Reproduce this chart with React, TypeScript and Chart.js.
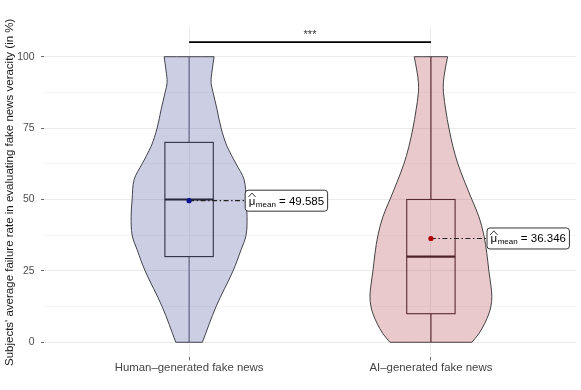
import React, { useEffect, useRef } from 'react';
import { Chart, registerables } from 'chart.js';

Chart.register(...registerables);

// ---------- data ----------
const CATEGORIES = ['Human–generated fake news', 'AI–generated fake news'];
const Y_TICKS = [0, 25, 50, 75, 100];
const Y_TITLE = "Subjects' average failure rate in evaluating fake news veracity (in %)";

// violin outline: y levels and half-width (density, in 1/242 category units)
const HUMAN_LEVELS = [0, 12.5, 25, 32.4, 37.5, 44, 50, 57, 62.5, 68.6, 75, 81.5, 87.5, 91, 95, 100];
const HUMAN_DENSITY = [13.3, 27, 44, 52, 57, 58, 57, 55, 47, 38, 32, 28, 24, 22, 23, 25];
const AI_LEVELS = [0, 3, 6.7, 10, 12.5, 16, 20, 25, 31, 37.5, 44, 50, 56, 62.5, 68.6, 75, 81, 87.5, 91, 95, 100];
const AI_DENSITY = [41, 48, 54, 58, 60, 61, 60, 58, 56, 53, 48, 41, 34, 27, 22, 18, 15, 12.5, 12.5, 14, 16.7];

const BOX_MIN = [0, 0];
const BOX_Q1 = [30, 10];
const BOX_MEDIAN = [50, 30];
const BOX_Q3 = [70, 50];
const BOX_MAX = [100, 100];
const MEANS = [49.585, 36.346];
const MEAN_LABELS = ['49.585', '36.346'];
const SIGNIF_TEXT = '***';
const SIGNIF_Y = 105.1;

// ---------- styles ----------
const DENSITY_UNIT = 1 / 242;
const BOX_WIDTH = 0.2;
const LABEL_NUDGE = 0.232;
const FONT = "'Liberation Sans', Arial, Helvetica, sans-serif";
const VIOLIN_FILL = ['rgba(58,66,150,0.26)', 'rgba(182,75,85,0.3)'];
const BOX_LINE = ['#2f2f48', '#5a2a30'];
const MEDIAN_LINE = ['#25253d', '#4f2228'];
const WHISKER_LINE = ['rgba(60,60,95,0.7)', 'rgba(75,30,35,0.9)'];
const MEAN_COLOR = ['#0b1590', '#b00000'];

function violinPoints(center: number, levels: number[], dens: number[]) {
  const right = levels.map((y, i) => ({ x: center + dens[i] * DENSITY_UNIT, y }));
  const left = levels
    .map((y, i) => ({ x: center - dens[i] * DENSITY_UNIT, y }))
    .reverse();
  // corners repeated so the smoothed outline keeps flat, sharp ends
  const rTop = right[right.length - 1];
  const lTop = left[0];
  const lBot = left[left.length - 1];
  const rBot = right[0];
  return [rBot, ...right, rTop, lTop, ...left, lBot, rBot, rBot];
}

const overlayPlugin = {
  id: 'boxOverlay',
  afterDatasetsDraw(chart: any) {
    const { ctx } = chart;
    const xs = chart.scales.x;
    const ys = chart.scales.y;
    ctx.save();
    // significance stars
    const sx = (xs.getPixelForValue(1) + xs.getPixelForValue(2)) / 2;
    ctx.fillStyle = '#333';
    ctx.font = `11px ${FONT}`;
    ctx.textAlign = 'center';
    ctx.textBaseline = 'alphabetic';
    ctx.fillText(SIGNIF_TEXT, sx, ys.getPixelForValue(SIGNIF_Y) - 4.5);

    CATEGORIES.forEach((_, i) => {
      const c = i + 1;
      const cx = xs.getPixelForValue(c);
      const x0 = xs.getPixelForValue(c - BOX_WIDTH / 2);
      const x1 = xs.getPixelForValue(c + BOX_WIDTH / 2);
      const yMin = ys.getPixelForValue(BOX_MIN[i]);
      const yQ1 = ys.getPixelForValue(BOX_Q1[i]);
      const yMed = ys.getPixelForValue(BOX_MEDIAN[i]);
      const yQ3 = ys.getPixelForValue(BOX_Q3[i]);
      const yMax = ys.getPixelForValue(BOX_MAX[i]);

      // whiskers
      ctx.strokeStyle = WHISKER_LINE[i];
      ctx.lineWidth = 1.2;
      ctx.setLineDash([]);
      ctx.beginPath();
      ctx.moveTo(cx, yMin);
      ctx.lineTo(cx, yQ1);
      ctx.moveTo(cx, yQ3);
      ctx.lineTo(cx, yMax);
      ctx.stroke();

      // box
      ctx.strokeStyle = BOX_LINE[i];
      ctx.lineWidth = 1.1;
      ctx.strokeRect(x0, yQ3, x1 - x0, yQ1 - yQ3);
      // median
      ctx.strokeStyle = MEDIAN_LINE[i];
      ctx.lineWidth = 2.2;
      ctx.beginPath();
      ctx.moveTo(x0, yMed);
      ctx.lineTo(x1, yMed);
      ctx.stroke();

      // mean label box
      const my = ys.getPixelForValue(MEANS[i]);
      const boxL = xs.getPixelForValue(c + LABEL_NUDGE);
      ctx.font = `11.5px ${FONT}`;
      const muW = ctx.measureText('μ').width;
      ctx.font = `8px ${FONT}`;
      const subW = ctx.measureText('mean').width;
      ctx.font = `11.5px ${FONT}`;
      const restText = ' = ' + MEAN_LABELS[i];
      const restW = ctx.measureText(restText).width;
      const padX = 3.5;
      const boxW = padX + muW + 0.5 + subW + restW + padX;
      const boxH = 21;
      const boxT = my - boxH / 2;

      // dash-dot connector
      ctx.strokeStyle = '#222';
      ctx.lineWidth = 1.1;
      ctx.setLineDash([5, 2.5, 1.5, 2.5]);
      ctx.beginPath();
      ctx.moveTo(cx, my);
      ctx.lineTo(boxL, my);
      ctx.stroke();
      ctx.setLineDash([]);

      // mean point
      ctx.fillStyle = MEAN_COLOR[i];
      ctx.beginPath();
      ctx.arc(cx, my, 2.6, 0, Math.PI * 2);
      ctx.fill();

      // label box
      ctx.fillStyle = '#fff';
      ctx.strokeStyle = '#333';
      ctx.lineWidth = 1;
      ctx.beginPath();
      (ctx as any).roundRect(boxL, boxT, boxW, boxH, 3);
      ctx.fill();
      ctx.stroke();

      const base = my + 4;
      let tx = boxL + padX;
      ctx.fillStyle = '#000';
      ctx.textAlign = 'left';
      ctx.textBaseline = 'alphabetic';
      ctx.font = `11.5px ${FONT}`;
      ctx.fillText('μ', tx, base);
      // wide hat
      ctx.strokeStyle = '#000';
      ctx.lineWidth = 0.8;
      ctx.beginPath();
      ctx.moveTo(tx - 0.3, base - 7.6);
      ctx.lineTo(tx + muW / 2, base - 11.6);
      ctx.lineTo(tx + muW + 0.3, base - 7.6);
      ctx.stroke();
      tx += muW + 0.5;
      ctx.font = `8px ${FONT}`;
      ctx.fillText('mean', tx, base + 2);
      tx += subW;
      ctx.font = `11.5px ${FONT}`;
      ctx.fillText(restText, tx, base);
    });
    ctx.restore();
  },
};

export default function App() {
  const ref = useRef<HTMLCanvasElement | null>(null);

  useEffect(() => {
    if (!ref.current) return;
    const gridValues: number[] = [];
    Y_TICKS.forEach((v, i) => {
      gridValues.push(v);
      if (i < Y_TICKS.length - 1) gridValues.push((v + Y_TICKS[i + 1]) / 2);
    });
    const isMajor = (v: number) => Y_TICKS.includes(v);

    const chart = new Chart(ref.current, {
      type: 'scatter',
      data: {
        datasets: [
          {
            data: violinPoints(1, HUMAN_LEVELS, HUMAN_DENSITY),
            showLine: true,
            fill: 'shape',
            backgroundColor: VIOLIN_FILL[0],
            borderColor: '#3a3a44',
            borderWidth: 0.95,
            pointRadius: 0,
            tension: 0.35,
          },
          {
            data: violinPoints(2, AI_LEVELS, AI_DENSITY),
            showLine: true,
            fill: 'shape',
            backgroundColor: VIOLIN_FILL[1],
            borderColor: '#3a3a3a',
            borderWidth: 0.95,
            pointRadius: 0,
            tension: 0.35,
          },
          {
            data: [
              { x: 1, y: SIGNIF_Y },
              { x: 2, y: SIGNIF_Y },
            ],
            showLine: true,
            borderColor: '#000',
            borderWidth: 1.6,
            pointRadius: 0,
            fill: false,
          },
        ],
      } as any,
      options: {
        animation: false,
        responsive: false,
        devicePixelRatio: 1,
        layout: { padding: { left: 0, top: 27.3, right: 5, bottom: 0 } },
        plugins: {
          legend: { display: false },
          tooltip: { enabled: false },
        },
        scales: {
          x: {
            type: 'linear',
            min: 0.4,
            max: 2.6,
            afterBuildTicks: (s: any) => {
              s.ticks = CATEGORIES.map((_, i) => ({ value: i + 1 }));
            },
            afterFit: (s: any) => {
              s.height = 32.6;
            },
            ticks: {
              callback: (v: any) => CATEGORIES[Math.round(Number(v)) - 1] ?? '',
              autoSkip: false,
              maxRotation: 0,
              padding: 1,
              color: '#444',
              font: { family: FONT, size: 11.4 },
            },
            grid: {
              color: '#ebebeb',
              lineWidth: 1,
              tickColor: '#666',
              tickLength: 3,
            },
            border: { display: false },
          },
          y: {
            type: 'linear',
            min: -5.3,
            max: 110.3,
            afterBuildTicks: (s: any) => {
              s.ticks = gridValues.map((v) => ({ value: v }));
            },
            afterFit: (s: any) => {
              s.width = 44;
            },
            ticks: {
              callback: (v: any) => (isMajor(Number(v)) ? String(v) : ''),
              autoSkip: false,
              padding: 6.5,
              color: '#4d4d4d',
              font: { family: FONT, size: 10.4 },
            },
            grid: {
              color: (c: any) => (isMajor(c.tick?.value) ? '#ebebeb' : '#f5f5f5'),
              tickColor: (c: any) => (isMajor(c.tick?.value) ? '#666' : 'rgba(0,0,0,0)'),
              tickLength: 3,
              lineWidth: 1,
            },
            border: { display: false },
            title: {
              display: true,
              text: Y_TITLE,
              color: '#1a1a1a',
              font: { family: FONT, size: 11.5 },
              padding: { top: 3.2, bottom: 0 },
            },
          },
        },
      } as any,
      plugins: [overlayPlugin],
    });
    return () => chart.destroy();
  }, []);

  return (
    <div style={{ position: 'fixed', left: 0, top: 0, width: 581, height: 390, background: '#fff' }}>
      <canvas ref={ref} width={581} height={390} style={{ display: 'block' }} />
    </div>
  );
}
